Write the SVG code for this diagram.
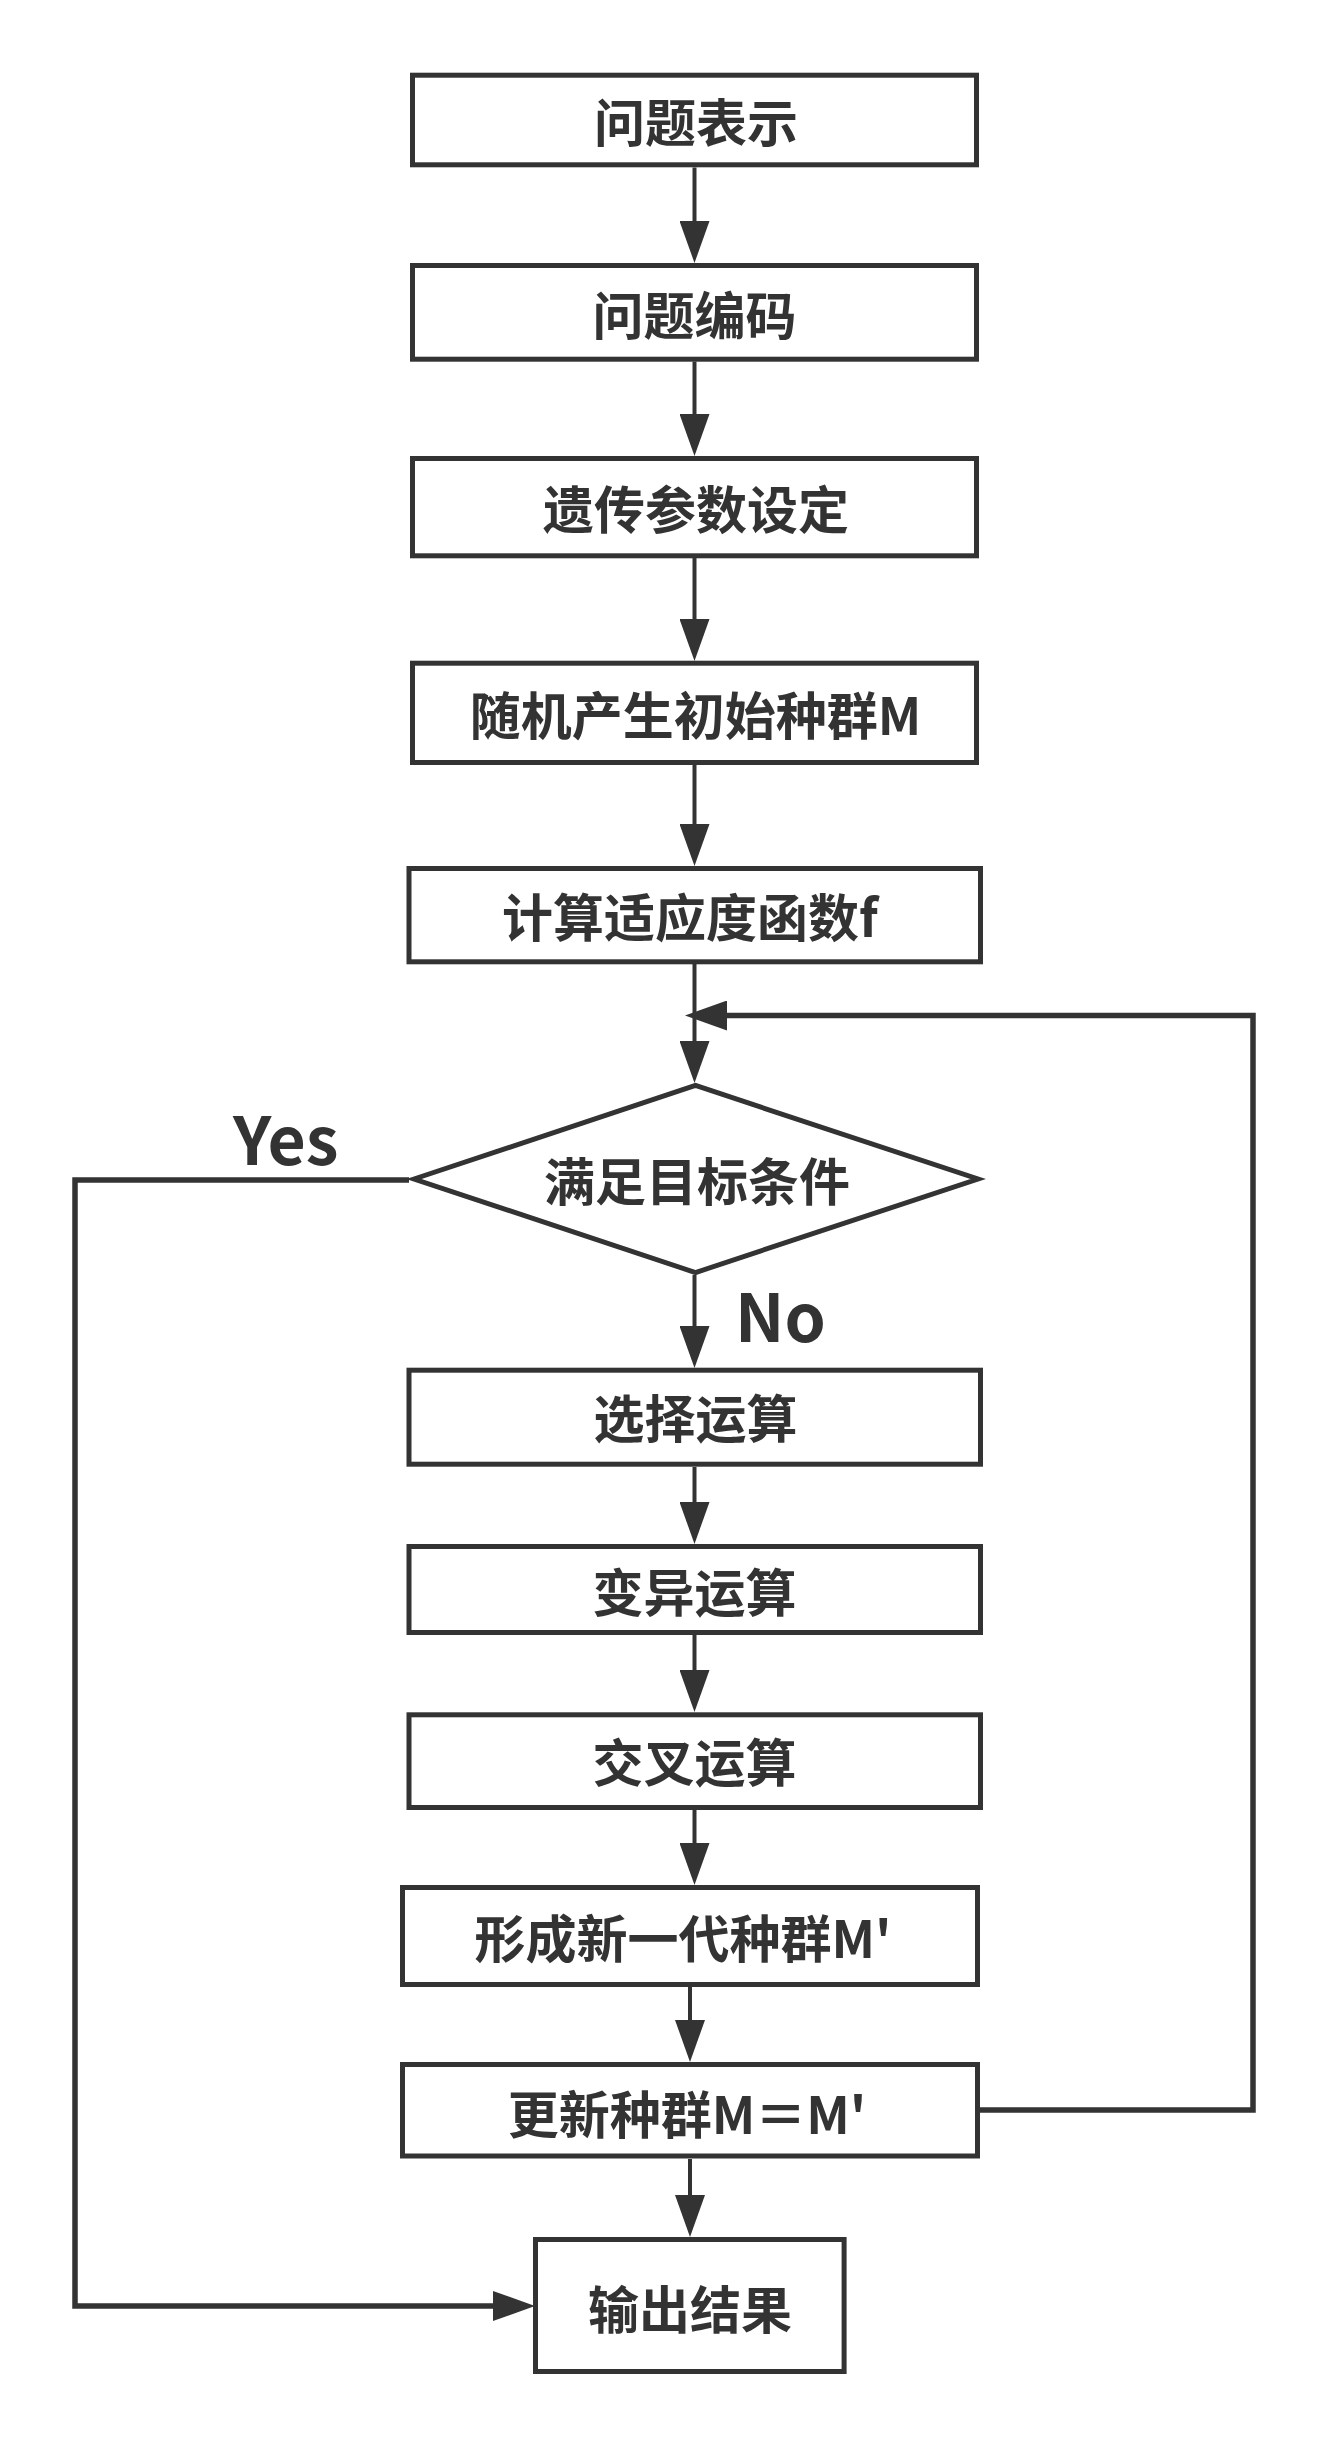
<svg xmlns="http://www.w3.org/2000/svg" width="1331" height="2446" viewBox="0 0 1331 2446">
<style>
.box{fill:#ffffff;stroke:#333333;stroke-width:5}
.lbl{font-family:"Noto Sans CJK SC","Noto Sans",sans-serif;font-weight:bold;font-size:51px;fill:#333333;text-anchor:middle}
.yn{font-family:"Noto Sans CJK SC","Noto Sans",sans-serif;font-weight:bold;font-size:66px;fill:#333333}
.c{fill:none;stroke:#333333;stroke-width:4;marker-end:url(#ah)}
.cw{fill:none;stroke:#333333;stroke-width:5.5;marker-end:url(#ah)}
</style>
<defs>
<marker id="ah" markerUnits="userSpaceOnUse" markerWidth="42" markerHeight="30" refX="34" refY="15" orient="auto">
<path d="M0,0 L42,15 L0,30 Z" fill="#333333"/>
</marker>
</defs>
<rect width="1331" height="2446" fill="#ffffff"/>
<g id="connectors">
<path class="c" d="M694.5,167.5 V255"/>
<path class="c" d="M694.5,361.5 V448"/>
<path class="c" d="M694.5,558 V653"/>
<path class="c" d="M694.5,765 V858"/>
<path class="c" d="M694.5,964 V1075"/>
<path class="cw" d="M980,2110 H1253 V1015.5 H693"/>
<path class="c" d="M694.5,1275 V1360"/>
<path class="c" d="M694.5,1467 V1536"/>
<path class="c" d="M694.5,1635 V1704"/>
<path class="c" d="M694.5,1810 V1877"/>
<path class="c" d="M690,1987 V2054"/>
<path class="c" d="M690,2159 V2229"/>
<path class="cw" d="M409,1180 H75 V2306 H527"/>
<text class="yn" x="233" y="1165">Yes</text>
<text class="yn" x="735" y="1342">No</text>
</g>
<g id="n1"><rect class="box" x="412.5" y="75.2" width="564" height="89.6"/><text class="lbl" x="696" y="142">问题表示</text></g>
<g id="n2"><rect class="box" x="412.5" y="265.5" width="564" height="93.7"/><text class="lbl" x="694.5" y="335">问题编码</text></g>
<g id="n3"><rect class="box" x="412.5" y="458.5" width="564" height="97.3"/><text class="lbl" x="696" y="529">遗传参数设定</text></g>
<g id="n4"><rect class="box" x="412.5" y="663.2" width="564" height="99.3"/><text class="lbl" x="695.5" y="735">随机产生初始种群M</text></g>
<g id="n5"><rect class="box" x="409" y="868.5" width="571.5" height="93.3"/><text class="lbl" x="690" y="937">计算适应度函数f</text></g>
<g id="n6"><polygon class="box" points="414,1179 695.5,1085.5 978,1179 695.5,1272.5"/><text class="lbl" x="697" y="1201">满足目标条件</text></g>
<g id="n7"><rect class="box" x="409" y="1370.2" width="571.5" height="94"/><text class="lbl" x="695.5" y="1438">选择运算</text></g>
<g id="n8"><rect class="box" x="409" y="1546.5" width="571.5" height="86"/><text class="lbl" x="694.5" y="1612">变异运算</text></g>
<g id="n9"><rect class="box" x="409" y="1714.8" width="571.5" height="92.7"/><text class="lbl" x="694.5" y="1782">交叉运算</text></g>
<g id="n10"><rect class="box" x="402.5" y="1887.5" width="575" height="97"/><text class="lbl" x="683" y="1958">形成新一代种群M'</text></g>
<g id="n11"><rect class="box" x="402.5" y="2064.5" width="575" height="91.5"/><text class="lbl" x="687" y="2134">更新种群M＝M'</text></g>
<g id="n12"><rect class="box" x="535.5" y="2239.5" width="308.6" height="132"/><text class="lbl" x="690" y="2329">输出结果</text></g>
</svg>
